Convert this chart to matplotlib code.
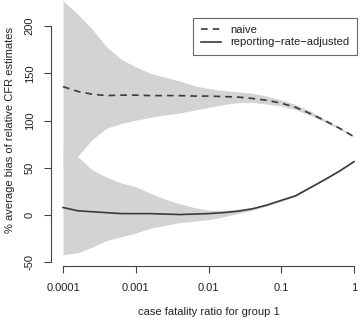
import matplotlib
matplotlib.use("Agg")
import matplotlib.pyplot as plt
import numpy as np

plt.rcParams['font.family'] = ['Liberation Sans', 'DejaVu Sans']

# log10 of the case fatality ratio for group 1
log_cfr = [-4.0, -3.8, -3.6, -3.4, -3.2, -3.0, -2.8, -2.6, -2.4, -2.2, -2.0,
           -1.8, -1.6, -1.4, -1.2, -1.0, -0.8, -0.6, -0.4, -0.2, 0.0]

# naive estimate: mean and band
naive_mean = [136, 131, 128, 126.5, 127, 127, 126.5, 126.5, 126.5, 126, 126,
              125.5, 125, 123.5, 121.5, 118.5, 114, 107.5, 100, 92, 83]
naive_upper = [227, 213, 197, 178, 165, 157, 150, 146, 142, 137, 134,
               132, 130.5, 129, 126, 122, 117, 110, 101.5, 93, 83.5]
naive_lower = [50, 62, 80, 92, 97, 100.5, 103.5, 106, 108, 111, 114,
               117, 119, 119.5, 117.5, 115.5, 111.5, 105.5, 98.5, 91, 82.5]

# reporting-rate-adjusted estimate: mean and band
adj_mean = [8, 4.5, 3.5, 2.5, 1.5, 1.5, 1.5, 1, 0.5, 1, 1.5,
            2.5, 4, 6.5, 10.5, 15.5, 20.5, 29, 37.5, 46.5, 56.5]
adj_upper = [70, 62, 48, 40, 34, 30, 23, 17, 12, 8, 5,
             5, 6, 8, 11.5, 16.5, 22, 29.5, 38, 47, 57]
adj_lower = [-42, -40, -34, -27, -23, -19, -14, -11, -8, -6.5, -5,
             -2, 1.5, 5, 9.5, 14.5, 19.5, 28.5, 37, 46, 56]

x_ticks = [0.0001, 0.001, 0.01, 0.1, 1]
x_ticklabels = ['0.0001', '0.001', '0.01', '0.1', '1']
y_ticks = [-50, 0, 50, 100, 150, 200]

x = 10 ** np.array(log_cfr)

W, H = 360, 318
fig = plt.figure(figsize=(3.6, 3.18), dpi=100)
# plot region in pixels (R style, extends slightly past the top/right edge)
left, right, bottom, top = 51.4, 365.6, 266, -10.4
ax = fig.add_axes([left / W, (H - bottom) / H, (right - left) / W, (bottom - top) / H])

band_col = '#d3d3d3'
line_col = '#3a3a3a'

ax.fill_between(x, naive_lower, naive_upper, color=band_col, lw=0)
ax.fill_between(x, adj_lower, adj_upper, color=band_col, lw=0)
ax.plot(x, naive_mean, color=line_col, lw=1.2, dashes=(4, 3), label='naive')
ax.plot(x, adj_mean, color=line_col, lw=1.2, label='reporting\u2212rate\u2212adjusted')

ax.set_xscale('log')
ax.set_xlim(10 ** -4.16, 10 ** 0.16)
ax.set_ylim(-54.0, 238.8)
ax.minorticks_off()

ax.set_xticks(x_ticks)
ax.set_xticklabels(x_ticklabels)
ax.set_yticks(y_ticks)
ax.set_yticklabels([str(v) for v in y_ticks], rotation=90, va='center')

for s in ['top', 'right']:
    ax.spines[s].set_visible(False)
ax.spines['left'].set_bounds(-50, 200)
ax.spines['bottom'].set_bounds(0.0001, 1)
for s in ['left', 'bottom']:
    ax.spines[s].set_color('#444444')
    ax.spines[s].set_linewidth(0.8)

ax.tick_params(axis='both', direction='out', length=5, width=0.8, color='#444444',
               labelsize=8, labelcolor='#222222')
ax.tick_params(axis='x', pad=7)
ax.tick_params(axis='y', pad=7)

fig.text(208.5 / W, 1 - 312 / H, 'case fatality ratio for group 1',
         ha='center', va='center', fontsize=8, color='#222222')
fig.text(10 / W, 1 - 130 / H, '% average bias of relative CFR estimates',
         ha='center', va='center', rotation=90, fontsize=8, color='#222222')

leg = ax.legend(loc='upper right', bbox_to_anchor=(357 / W, 1 - 18 / H),
                bbox_transform=fig.transFigure, fontsize=8, frameon=True,
                fancybox=False, handlelength=1.8, handletextpad=0.9,
                borderpad=0.65, labelspacing=0.2, borderaxespad=0)
leg.get_frame().set_edgecolor('#444444')
leg.get_frame().set_linewidth(0.8)
for t in leg.get_texts():
    t.set_color('#222222')

fig.savefig('out.png', dpi=100)
